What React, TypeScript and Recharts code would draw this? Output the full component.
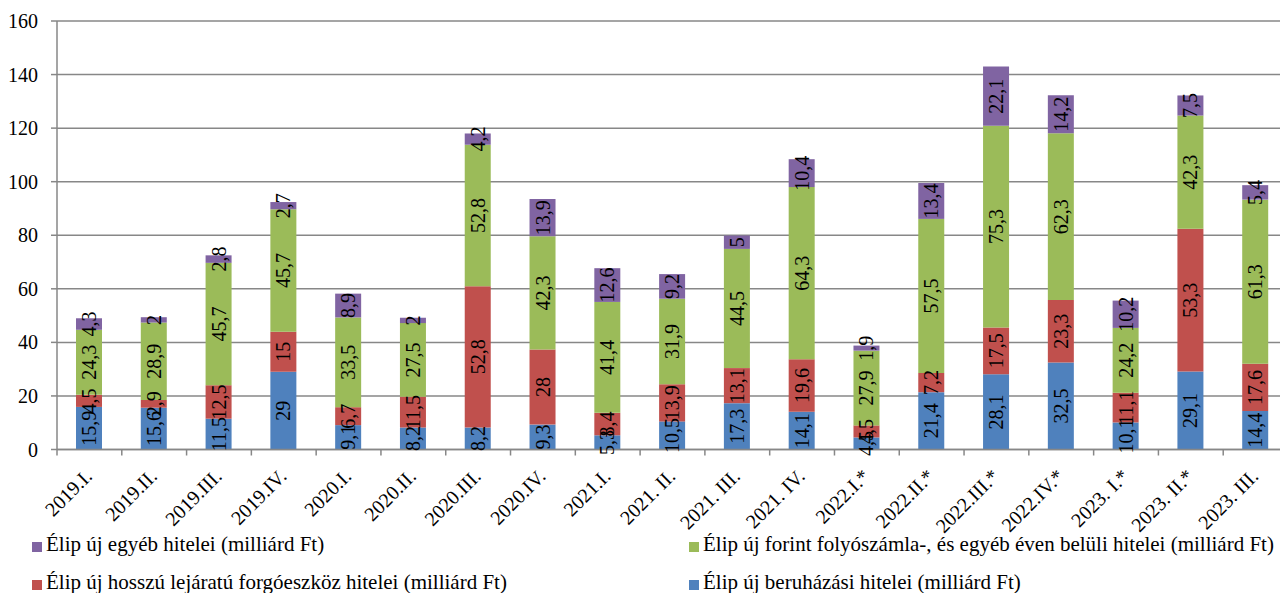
import React from 'react';
import { BarChart, Bar, XAxis, YAxis, CartesianGrid, LabelList, Legend } from 'recharts';

const categories = ['2019.I.', '2019.II.', '2019.III.', '2019.IV.', '2020.I.', '2020.II.', '2020.III.', '2020.IV.', '2021.I.', '2021. II.', '2021. III.', '2021. IV.', '2022.I.*', '2022.II.*', '2022.III.*', '2022.IV.*', '2023. I.*', '2023. II.*', '2023. III.'];
const beruhazasi = [15.9, 15.6, 11.5, 29, 9.1, 8.2, 8.2, 9.3, 5.3, 10.5, 17.3, 14.1, 4.5, 21.4, 28.1, 32.5, 10.1, 29.1, 14.4];
const hosszu = [4.5, 2.9, 12.5, 15, 6.7, 11.5, 52.8, 28, 8.4, 13.9, 13.1, 19.6, 4.5, 7.2, 17.5, 23.3, 11.1, 53.3, 17.6];
const forint = [24.3, 28.9, 45.7, 45.7, 33.5, 27.5, 52.8, 42.3, 41.4, 31.9, 44.5, 64.3, 27.9, 57.5, 75.3, 62.3, 24.2, 42.3, 61.3];
const egyeb = [4.3, 2, 2.8, 2.7, 8.9, 2, 4.2, 13.9, 12.6, 9.2, 5, 10.4, 1.9, 13.4, 22.1, 14.2, 10.2, 7.5, 5.4];
const yTicks = [0, 20, 40, 60, 80, 100, 120, 140, 160];

const seriesNames = {
  egyeb: 'Élip új egyéb hitelei (milliárd Ft)',
  forint: 'Élip új forint folyószámla-, és egyéb éven belüli hitelei (milliárd Ft)',
  hosszu: 'Élip új hosszú lejáratú forgóeszköz hitelei (milliárd Ft)',
  beruhazasi: 'Élip új beruházási hitelei (milliárd Ft)',
};
const colors = {
  beruhazasi: '#4F81BD',
  hosszu: '#C0504D',
  forint: '#9BBB59',
  egyeb: '#8064A2',
};

const data = categories.map((c, i) => ({
  cat: c,
  beruhazasi: beruhazasi[i],
  hosszu: hosszu[i],
  forint: forint[i],
  egyeb: egyeb[i],
}));

const FONT = "'Liberation Serif', 'DejaVu Serif', serif";
const GRAY = '#878787';
const CHART_W = 1296;
const CHART_H = 593;
const PLOT_LEFT = 57;
const PLOT_RIGHT = 1288;
const STEP = (PLOT_RIGHT - PLOT_LEFT) / categories.length;

const fmt = (v: any) => String(v).replace('.', ',');

const txtStyle = { fontFamily: FONT, fontSize: 20 };
const legendTxtStyle = { fontFamily: FONT, fontSize: 21 };

const BarLabel = (props: any) => {
  const x = Number(props.x);
  const y = Number(props.y);
  const w = Number(props.width);
  const h = Number(props.height);
  const cx = x + w / 2;
  const cy = y + h / 2;
  return (
    <text
      x={cx}
      y={cy}
      transform={`rotate(-90 ${cx} ${cy})`}
      textAnchor="middle"
      dominantBaseline="central"
      style={txtStyle}
      fill="#000"
    >
      {fmt(props.value)}
    </text>
  );
};

const XTick = (props: any) => {
  const x = Number(props.x);
  const y = Number(props.y);
  const lx = x - STEP / 2;
  const tx = x + 4;
  const ty = y + 28;
  return (
    <g>
      <line x1={lx} x2={lx} y1={y} y2={y + 6} stroke={GRAY} strokeWidth={1.5} />
      <text
        x={tx}
        y={ty}
        textAnchor="end"
        transform={`rotate(-45 ${tx} ${ty})`}
        style={txtStyle}
        fill="#000"
      >
        {props.payload.value}
      </text>
    </g>
  );
};

const YTick = (props: any) => {
  const x = Number(props.x);
  const y = Number(props.y);
  return (
    <text x={x} y={y} textAnchor="end" dominantBaseline="central" style={txtStyle} fill="#000">
      {props.payload.value}
    </text>
  );
};

const legendItems = [
  { key: 'egyeb', col: 0, row: 0 },
  { key: 'forint', col: 1, row: 0 },
  { key: 'hosszu', col: 0, row: 1 },
  { key: 'beruhazasi', col: 1, row: 1 },
];

const LegendContent = () => (
  <svg width={CHART_W} height={63} style={{ display: 'block', overflow: 'visible' }}>
    {legendItems.map((it) => {
      const sx = it.col === 0 ? 32 : 689;
      const base = it.row === 0 ? 21 : 59;
      return (
        <g key={it.key}>
          <rect x={sx} y={base - 9} width={10} height={10} fill={(colors as any)[it.key]} />
          <text x={sx + 14} y={base} style={legendTxtStyle} fill="#000">
            {(seriesNames as any)[it.key]}
          </text>
        </g>
      );
    })}
  </svg>
);

export default function App() {
  return (
    <div style={{ position: 'fixed', left: 0, top: 0, width: 1280, height: CHART_H, overflow: 'hidden', background: '#fff' }}>
      <style>{'html,body{margin:0;padding:0;overflow:hidden;}'}</style>
      <BarChart
        width={CHART_W}
        height={CHART_H}
        data={data}
        margin={{ top: 21, right: CHART_W - PLOT_RIGHT, bottom: 0, left: 0 }}
        barSize={26}
      >
        <CartesianGrid vertical={false} stroke={GRAY} strokeWidth={1.5} />
        <XAxis
          dataKey="cat"
          interval={0}
          height={143.5}
          tickLine={false}
          tickSize={0}
          tickMargin={0}
          axisLine={{ stroke: GRAY, strokeWidth: 1.5 }}
          tick={(p: any) => <XTick {...p} />}
        />
        <YAxis
          width={PLOT_LEFT}
          domain={[0, 160]}
          ticks={yTicks}
          interval={0}
          tickSize={6}
          tickMargin={13}
          tickLine={{ stroke: GRAY, strokeWidth: 1.5 }}
          axisLine={{ stroke: GRAY, strokeWidth: 1.5 }}
          tick={(p: any) => <YTick {...p} />}
        />
        <Legend
          layout="horizontal"
          verticalAlign="middle"
          align="center"
          wrapperStyle={{ top: 530, left: 0, width: CHART_W, height: 63 }}
          content={() => <LegendContent />}
        />
        <Bar dataKey="beruhazasi" name={seriesNames.beruhazasi} stackId="a" fill={colors.beruhazasi} isAnimationActive={false}>
          <LabelList dataKey="beruhazasi" content={(p: any) => <BarLabel {...p} />} />
        </Bar>
        <Bar dataKey="hosszu" name={seriesNames.hosszu} stackId="a" fill={colors.hosszu} isAnimationActive={false}>
          <LabelList dataKey="hosszu" content={(p: any) => <BarLabel {...p} />} />
        </Bar>
        <Bar dataKey="forint" name={seriesNames.forint} stackId="a" fill={colors.forint} isAnimationActive={false}>
          <LabelList dataKey="forint" content={(p: any) => <BarLabel {...p} />} />
        </Bar>
        <Bar dataKey="egyeb" name={seriesNames.egyeb} stackId="a" fill={colors.egyeb} isAnimationActive={false}>
          <LabelList dataKey="egyeb" content={(p: any) => <BarLabel {...p} />} />
        </Bar>
      </BarChart>
    </div>
  );
}
